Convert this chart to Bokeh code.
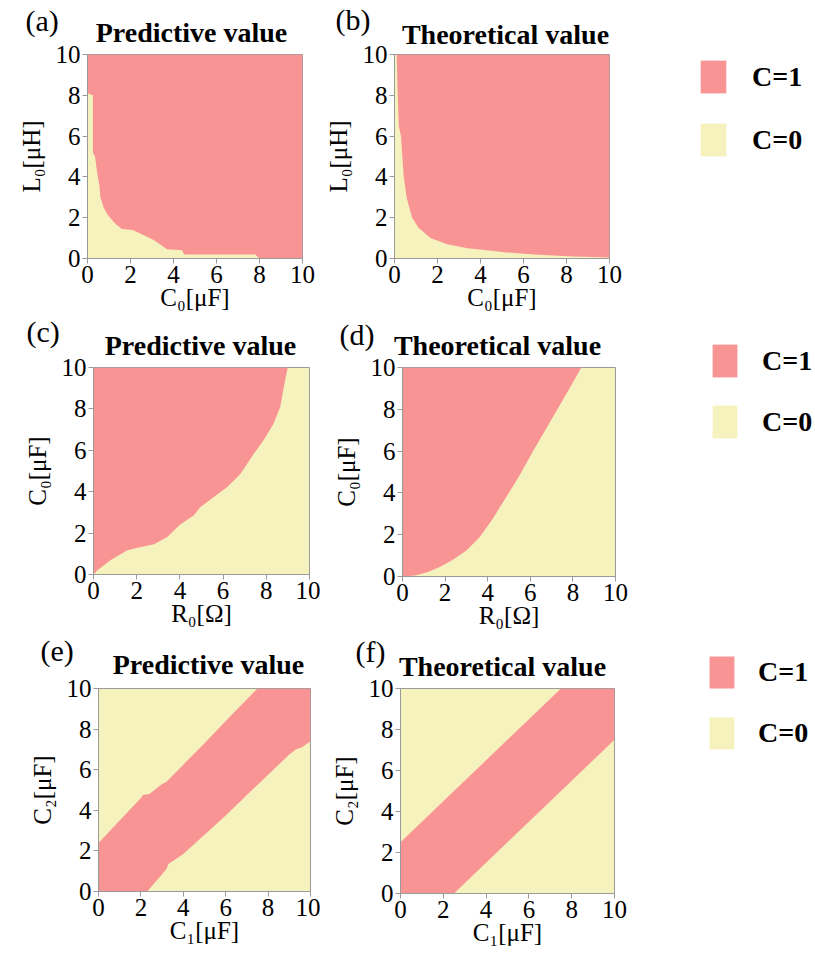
from bokeh.plotting import figure
from bokeh.layouts import column, row
from bokeh.models import Range1d, FixedTicker, Label
from bokeh.embed import file_html
from bokeh.resources import INLINE

# ---------------- data ----------------
ticks = [0, 2, 4, 6, 8, 10]

# (a) predictive: boundary of C=0 region (L0 vs C0)
a_x = [0.0, 0.25, 0.25, 0.35, 0.45, 0.55, 0.6, 0.75, 0.9, 1.05, 1.3, 1.6, 2.1, 2.6, 3.1, 3.5, 3.7, 4.4, 4.5, 7.8, 8.0]
a_y = [8.1, 8.0, 5.2, 5.0, 4.2, 3.6, 3.0, 2.5, 2.2, 2.0, 1.7, 1.45, 1.4, 1.15, 0.9, 0.6, 0.45, 0.4, 0.2, 0.2, 0.0]

# (b) theoretical: boundary of C=0 region (L0 vs C0)
b_x = [0.1, 0.15, 0.2, 0.3, 0.43, 0.56, 0.82, 1.13, 1.67, 2.45, 3.4, 4.3, 5.2, 6.5, 8.3, 10.0]
b_y = [10.0, 8.0, 6.5, 6.0, 4.0, 3.0, 2.0, 1.5, 1.0, 0.7, 0.5, 0.4, 0.3, 0.2, 0.1, 0.05]

# (c) predictive: boundary C0 vs R0
c_x = [0.0, 0.18, 0.8, 1.57, 2.2, 2.8, 3.4, 4.0, 4.65, 4.95, 5.57, 6.18, 6.8, 7.42, 7.88, 8.34, 8.65, 8.8, 8.95, 9.0]
c_y = [0.0, 0.2, 0.7, 1.17, 1.33, 1.46, 1.8, 2.4, 2.86, 3.26, 3.74, 4.22, 4.86, 5.83, 6.5, 7.3, 8.1, 9.0, 9.8, 10.0]

# (d) theoretical: boundary C0 vs R0
d_x = [0.0, 0.6, 1.2, 1.8, 2.4, 3.0, 3.6, 4.2, 4.9, 5.5, 6.1, 6.7, 7.3, 7.9, 8.4]
d_y = [0.0, 0.05, 0.22, 0.48, 0.82, 1.25, 1.85, 2.7, 3.85, 4.85, 5.95, 7.0, 8.05, 9.1, 10.0]

# (e) predictive: band C2 vs C1 (upper and lower boundaries)
e_up_x = [0.0, 0.1, 1.0, 2.0, 2.1, 2.4, 3.0, 3.2, 4.0, 5.0, 6.0, 7.5]
e_up_y = [2.4, 2.5, 3.5, 4.6, 4.75, 4.8, 5.3, 5.4, 6.25, 7.3, 8.4, 10.0]
e_lo_x = [2.3, 3.2, 3.3, 4.0, 5.0, 6.0, 7.0, 8.0, 9.0, 9.3, 9.6, 10.0]
e_lo_y = [0.0, 1.1, 1.35, 1.85, 2.8, 3.75, 4.75, 5.75, 6.75, 7.0, 7.1, 7.4]

# (f) theoretical: band C2 vs C1
f_up_x = [0.0, 7.5]
f_up_y = [2.5, 10.0]
f_lo_x = [2.5, 10.0]
f_lo_y = [0.0, 7.5]

legend_labels = ["C=1", "C=0"]

# ---------------- style ----------------
PINK = "#F99494"
YELLOW = "#F5F2BE"
GRAY = "#9a9a9a"
SERIF = "Liberation Serif"


def make_header(width, height, texts):
    h = figure(width=width, height=height, x_range=Range1d(0, width), y_range=Range1d(height, 0),
               x_axis_type=None, y_axis_type=None, output_backend="svg",
               toolbar_location=None, min_border=0, outline_line_color=None)
    h.grid.visible = False
    for letter, lxy, title, txy in texts:
        h.add_layout(Label(x=lxy[0], y=lxy[1], text=letter, text_font=SERIF,
                           text_font_size="30px", text_align="left", text_baseline="middle",
                           text_color="black"))
        h.add_layout(Label(x=txy[0], y=txy[1], text=title, text_font=SERIF,
                           text_font_size="28px", text_font_style="bold", text_align="center",
                           text_baseline="middle", text_color="black"))
    return h


def make_panel(xlabel, ylabel, box, rowtop, rowbottom, coloff):
    fl, fr, ft, fb = box
    p = figure(
        frame_width=fr - fl, frame_height=fb - ft,
        min_border_left=fl - coloff, min_border_right=coloff + 320 - fr,
        min_border_top=ft - rowtop, min_border_bottom=rowbottom - fb,
        x_range=Range1d(ticks[0], ticks[-1]), y_range=Range1d(ticks[0], ticks[-1]),
        output_backend="svg", toolbar_location=None,
        background_fill_color=YELLOW, border_fill_color="white",
    )
    p.title.text = ""
    p.grid.visible = False
    p.outline_line_color = GRAY
    for ax in (p.xaxis[0], p.yaxis[0]):
        ax.ticker = FixedTicker(ticks=ticks)
        ax.minor_tick_line_color = None
        ax.axis_line_color = GRAY
        ax.major_tick_line_color = GRAY
        ax.major_tick_out = 5
        ax.major_tick_in = 0
        ax.major_label_text_font = SERIF
        ax.major_label_text_font_size = "25px"
        ax.major_label_text_color = "black"
        ax.major_label_standoff = 2
        ax.axis_label_text_font = SERIF
        ax.axis_label_text_font_size = "25px"
        ax.axis_label_text_font_style = "normal"
        ax.axis_label_text_color = "black"
    p.xaxis.axis_label = xlabel
    p.yaxis.axis_label = ylabel
    p.xaxis.axis_label_standoff = -2
    p.yaxis.axis_label_standoff = 8
    return p


def make_legend(rowh, loc, glyph_w, glyph_h, spacing, standoff):
    p = figure(width=175, height=rowh, x_range=Range1d(0, 1), y_range=Range1d(0, 1),
               x_axis_type=None, y_axis_type=None, output_backend="svg",
               toolbar_location=None, min_border=0, outline_line_color=None)
    p.grid.visible = False
    # hidden renderers that only provide the legend swatches
    r1 = p.quad(left=[0], right=[0], top=[0], bottom=[0], fill_color=PINK, line_color=None,
                legend_label=legend_labels[0])
    r0 = p.quad(left=[0], right=[0], top=[0], bottom=[0], fill_color=YELLOW, line_color=None,
                legend_label=legend_labels[1])
    r1.visible = False
    r0.visible = False
    leg = p.legend[0]
    leg.location = loc
    leg.glyph_width = glyph_w
    leg.glyph_height = glyph_h
    leg.spacing = spacing
    leg.label_standoff = standoff
    leg.padding = 0
    leg.margin = 0
    leg.border_line_color = None
    leg.background_fill_alpha = 0
    leg.inactive_fill_alpha = 0
    leg.label_text_font = SERIF
    leg.label_text_font_style = "bold"
    leg.label_text_font_size = "28px"
    leg.label_text_color = "black"
    return p


# row geometry (page pixels)
R1, R2, R3, R4 = 0, 317, 636, 967
HEAD1, HEAD2, HEAD3 = 44, 39, 41

# row 1
h1 = make_header(640, HEAD1, [("(a)", (25, 20), "Predictive value", (191, 32)),
                              ("(b)", (335, 19), "Theoretical value", (505, 34))])
pa = make_panel("C₀[μF]", "L₀[μH]", (87, 302, 54, 258), R1 + HEAD1, R2, 0)
pa.patch(a_x + [10, 10, 0], a_y + [0, 10, 10], fill_color=PINK, line_color=None)
pb = make_panel("C₀[μF]", "L₀[μH]", (394, 609, 54, 258), R1 + HEAD1, R2, 320)
pb.patch(b_x + [10], b_y + [10], fill_color=PINK, line_color=None)

# row 2
h2 = make_header(640, HEAD2, [("(c)", (26, 14), "Predictive value", (200, 28)),
                              ("(d)", (339, 17), "Theoretical value", (497, 28))])
pc = make_panel("R₀[Ω]", "C₀[μF]", (93, 309, 367, 574), R2 + HEAD2, R3, 0)
pc.patch(c_x + [0], c_y + [10], fill_color=PINK, line_color=None)
pd_ = make_panel("R₀[Ω]", "C₀[μF]", (402, 615, 366, 575), R2 + HEAD2, R3, 320)
pd_.patch(d_x + [0], d_y + [10], fill_color=PINK, line_color=None)

# row 3
h3 = make_header(640, HEAD3, [("(e)", (40, 14), "Predictive value", (208, 28)),
                              ("(f)", (355, 15), "Theoretical value", (502, 30))])
pe = make_panel("C₁[μF]", "C₂[μF]", (98, 310, 688, 891), R3 + HEAD3, R4, 0)
pe.patch(e_up_x + [10] + e_lo_x[::-1] + [0], e_up_y + [10] + e_lo_y[::-1] + [0],
         fill_color=PINK, line_color=None)
pf = make_panel("C₁[μF]", "C₂[μF]", (400, 614, 687, 892), R3 + HEAD3, R4, 320)
pf.patch(f_up_x + [10] + f_lo_x[::-1] + [0], f_up_y + [10] + f_lo_y[::-1] + [0],
         fill_color=PINK, line_color=None)

l1 = make_legend(R2 - R1, (57, (R2 - R1) - 160), 32, 41, 22, 23)
l2 = make_legend(R3 - R2, (69, (R3 - R2) - 125), 31, 41, 20, 22)
l3 = make_legend(R4 - R3, (66, (R4 - R3) - 117), 31, 40, 21, 21)

layout = column(
    row(column(row(h1), row(pa, pb)), l1),
    row(column(row(h2), row(pc, pd_)), l2),
    row(column(row(h3), row(pe, pf)), l3),
)

open("out.html", "w").write(file_html(layout, INLINE))
